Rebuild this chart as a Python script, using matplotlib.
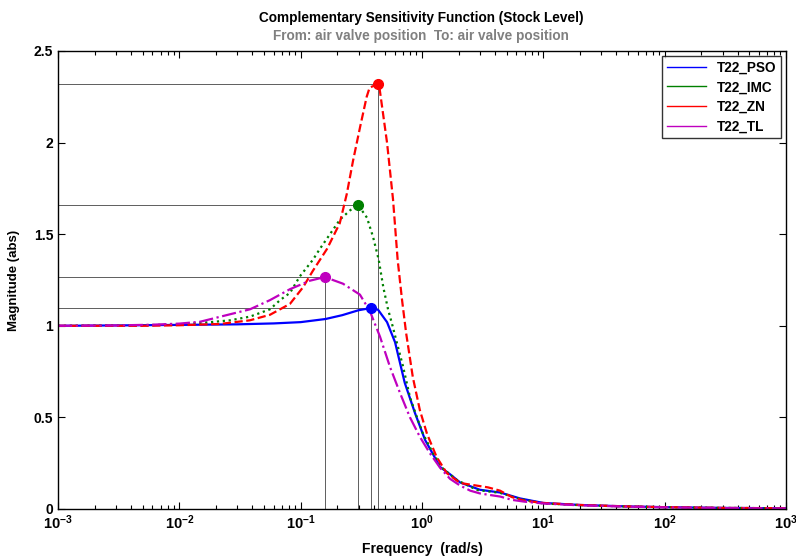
import matplotlib
matplotlib.use('Agg')
import matplotlib.pyplot as plt
from matplotlib.lines import Line2D
from matplotlib.ticker import LogLocator, NullFormatter

# data (frequency rad/s, magnitude abs)
pso_f = [0.001, 0.003, 0.01, 0.03, 0.06, 0.1, 0.16, 0.22, 0.3, 0.38, 0.434, 0.515,
         0.6, 0.72, 0.875, 1.06, 1.41, 1.7, 2.06, 3.0, 4.4, 6.4, 10, 20, 50, 100, 300, 1000]
pso_m = [1.0, 1.002, 1.005, 1.008, 1.013, 1.02, 1.037, 1.058, 1.085, 1.097, 1.088, 1.02,
         0.91, 0.69, 0.524, 0.377, 0.229, 0.19, 0.145, 0.105, 0.09, 0.058, 0.033, 0.022, 0.014, 0.01, 0.006, 0.004]

imc_f = [0.001, 0.005, 0.01, 0.018, 0.0262, 0.0382, 0.0558, 0.0676, 0.0817, 0.0985, 0.126, 0.144,
         0.211, 0.255, 0.297, 0.352, 0.395, 0.44, 0.48, 0.525, 0.577, 0.622, 0.697, 0.796, 0.909,
         1.02, 1.23, 1.49, 1.94, 2.84, 4.4, 6.4, 10, 20, 50, 100, 300, 1000]
imc_m = [1.0, 1.003, 1.008, 1.02, 1.03, 1.05, 1.09, 1.14, 1.18, 1.27, 1.36, 1.42,
         1.58, 1.63, 1.66, 1.59, 1.485, 1.36, 1.21, 1.09, 0.99, 0.905, 0.78, 0.61, 0.50,
         0.41, 0.305, 0.22, 0.158, 0.104, 0.088, 0.055, 0.03, 0.021, 0.013, 0.01, 0.006, 0.004]

zn_f = [0.001, 0.005, 0.01, 0.0216, 0.0382, 0.0558, 0.0676, 0.0817, 0.1045, 0.126, 0.165, 0.21,
        0.24, 0.27, 0.31, 0.35, 0.37, 0.434, 0.446, 0.515, 0.577, 0.63, 0.685, 0.74, 0.84, 0.96,
        1.1, 1.32, 1.6, 2.06, 3.0, 3.5, 4.4, 5.5, 7, 10, 20, 50, 100, 300, 1000]
zn_m = [1.0, 1.0, 1.003, 1.01, 1.03, 1.06, 1.09, 1.12, 1.21, 1.3, 1.42, 1.56,
        1.72, 1.9, 2.09, 2.25, 2.30, 2.32, 2.30, 2.0, 1.69, 1.36, 1.14, 0.96, 0.72, 0.54,
        0.41, 0.284, 0.196, 0.142, 0.125, 0.118, 0.10, 0.065, 0.045, 0.033, 0.022, 0.014, 0.01, 0.006, 0.004]

tl_f = [0.001, 0.003, 0.006, 0.01, 0.0148, 0.0382, 0.0558, 0.0817, 0.119, 0.158, 0.223, 0.308,
        0.372, 0.451, 0.545, 0.659, 0.796, 0.962, 1.16, 1.41, 1.7, 2.06, 2.5, 3.0, 3.5, 4.4,
        5.5, 7, 10, 20, 50, 100, 300, 1000]
tl_m = [1.0, 1.002, 1.006, 1.012, 1.022, 1.09, 1.14, 1.20, 1.246, 1.266, 1.23, 1.17,
        1.08, 0.94, 0.775, 0.633, 0.50, 0.393, 0.305, 0.225, 0.165, 0.128, 0.1, 0.085, 0.078, 0.068,
        0.05, 0.04, 0.03, 0.02, 0.013, 0.009, 0.005, 0.003]

labels = ['T22_PSO', 'T22_IMC', 'T22_ZN', 'T22_TL']
peak_f = [0.38, 0.297, 0.434, 0.158]
peak_m = [1.097, 1.66, 2.32, 1.266]

plt.rcParams['font.family'] = ['Liberation Sans', 'DejaVu Sans']
plt.rcParams['font.weight'] = 'bold'
plt.rcParams['axes.labelweight'] = 'bold'
plt.rcParams['mathtext.default'] = 'regular'

fig = plt.figure(figsize=(7.96, 5.57), dpi=100)
ax = fig.add_axes([58/796, 48/557, 728/796, 458/557])

colors = ['#0000ff', '#008000', '#ff0000', '#bf00bf']
styles = ['-', ':', '--', '-.']
series = [(pso_f, pso_m), (imc_f, imc_m), (zn_f, zn_m), (tl_f, tl_m)]

for (f, m), c, ls in zip(series, colors, styles):
    ax.plot(f, m, color=c, linestyle=ls, linewidth=1.6)

# peak markers with reference lines
for pf, pm, c in zip(peak_f, peak_m, colors):
    ax.plot([0.001, pf], [pm, pm], color='#444444', linewidth=0.6, zorder=1)
    ax.plot([pf, pf], [0, pm], color='#444444', linewidth=0.6, zorder=1)
    ax.plot(pf, pm, 'o', color=c, markersize=7, zorder=5)

ax.set_xscale('log')
ax.set_xlim(1e-3, 1e3)
ax.set_ylim(0, 2.5)
ax.set_yticks([0, 0.5, 1, 1.5, 2, 2.5])
ax.set_yticklabels(['0', '0.5', '1', '1.5', '2', '2.5'])
ax.xaxis.set_minor_locator(LogLocator(base=10, subs=range(2, 10), numticks=20))
ax.xaxis.set_minor_formatter(NullFormatter())
ax.tick_params(which='both', direction='in', top=True, right=True, width=0.8)
ax.tick_params(axis='y', labelsize=10)
ax.tick_params(axis='x', labelsize=10.5, pad=3.5)
ax.tick_params(which='major', length=5)
ax.tick_params(which='minor', length=3)
for s in ax.spines.values():
    s.set_linewidth(1.0)

ax.set_xlabel('Frequency  (rad/s)', fontsize=10, labelpad=7)
ax.set_ylabel('Magnitude (abs)', fontsize=9.5, labelpad=10)

fig.text(0.529, 1 - 18/557, 'Complementary Sensitivity Function (Stock Level)',
         ha='center', va='center', fontsize=9.8, fontweight='bold', color='black')
fig.text(0.529, 1 - 36/557, 'From: air valve position  To: air valve position',
         ha='center', va='center', fontsize=9.8, fontweight='bold', color='#808080')

handles = [Line2D([], [], color=c, linestyle='-', linewidth=1.0) for c in colors]
leg = ax.legend(handles, labels, loc='upper right', fontsize=9.8, frameon=True,
                fancybox=False, borderaxespad=0.35, handlelength=2.9, labelspacing=0.42,
                borderpad=0.35)
leg.get_frame().set_edgecolor('black')
leg.get_frame().set_linewidth(1.0)
for t in leg.get_texts():
    t.set_fontweight('bold')

plt.savefig('out.png', dpi=100)
